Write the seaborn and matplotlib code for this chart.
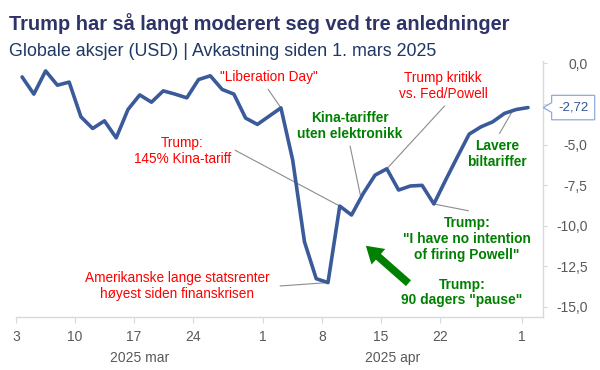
import numpy as np
import pandas as pd
import matplotlib
matplotlib.use("Agg")
import matplotlib.pyplot as plt
import matplotlib.transforms as mtrans
from matplotlib.patches import Polygon
import seaborn as sns

# ---------------- data ----------------
dates = pd.bdate_range("2025-03-03", "2025-05-01")
returns = [-0.83, -1.89, -0.46, -1.34, -1.15, -3.29, -4.01, -3.54, -4.59, -2.84,
           -1.94, -2.39, -1.69, -1.89, -2.12, -0.99, -0.76, -1.60, -1.89, -3.37,
           -3.76, -3.25, -2.74, -5.96, -11.00, -13.28, -13.52, -8.80, -9.35, -8.02,
           -6.89, -6.50, -7.81, -7.56, -7.52, -8.67, -7.19, -5.76, -4.36, -3.91,
           -3.60, -3.08, -2.84, -2.72]
tick_dates = ["2025-03-03", "2025-03-10", "2025-03-17", "2025-03-24", "2025-04-01",
              "2025-04-08", "2025-04-15", "2025-04-22", "2025-05-01"]
month_labels = ["2025 mar", "2025 apr"]
yticks = [0.0, -2.5, -5.0, -7.5, -10.0, -12.5, -15.0]

title = "Trump har så langt moderert seg ved tre anledninger"
subtitle = "Globale aksjer (USD) | Avkastning siden 1. mars 2025"

RED = "#FF0000"
GREEN = "#008000"
LINE = "#3A5A9A"
GRID = "#D9D9D9"
TXT = "#595959"

df = pd.DataFrame({"idx": np.arange(len(dates)), "ret": returns})

sns.set_style("white")
plt.rcParams["font.family"] = ["Liberation Sans", "DejaVu Sans"]

fig = plt.figure(figsize=(6, 3.7), dpi=100)
ax = fig.add_axes([0.027, 0.143, 0.8785, 0.692])

sns.lineplot(data=df, x="idx", y="ret", ax=ax, color=LINE, linewidth=2.6)

ax.set_xlim(-0.5, 44.3)
ax.set_ylim(-15.65, 0.15)

# y axis on right (the -2,5 label is hidden behind the last-value callout)
ax.yaxis.tick_right()
ax.set_yticks(yticks)
ylabels = [f"{v:.1f}".replace(".", ",") for v in yticks]
ylabels[1] = ""
ax.set_yticklabels(ylabels, color=TXT, fontsize=10)
ax.tick_params(axis="y", length=3, width=0.8, color=GRID, pad=29, right=True, left=False)
for t in ax.get_yticklabels():
    t.set_horizontalalignment("right")

# x axis
pos = {d: i for i, d in enumerate(dates)}
tick_idx = [pos[pd.Timestamp(d)] for d in tick_dates]
ax.set_xticks([i - 0.5 for i in tick_idx])
ax.set_xticklabels([str(pd.Timestamp(d).day) for d in tick_dates], color=TXT, fontsize=10)
ax.tick_params(axis="x", length=4, width=0.8, color=GRID, pad=5.5, bottom=True)
ax.set_xlabel("")
ax.set_ylabel("")

apr1 = pos[pd.Timestamp("2025-04-01")] - 0.5
may1 = pos[pd.Timestamp("2025-05-01")] - 0.5
start = -0.5
bt = mtrans.blended_transform_factory(ax.transData, ax.transAxes)
ax.text((start + apr1) / 2, -0.132, month_labels[0], transform=bt, ha="center", va="top",
        color=TXT, fontsize=10)
ax.text((apr1 + may1) / 2, -0.132, month_labels[1], transform=bt, ha="center", va="top",
        color=TXT, fontsize=10)

for s in ["left", "top"]:
    ax.spines[s].set_visible(False)
for s in ["right", "bottom"]:
    ax.spines[s].set_color(GRID)
    ax.spines[s].set_linewidth(1.0)
ax.grid(False)

# titles
fig.text(0.015, 0.937, title, fontsize=14.4, fontweight="bold", color="#2E3468", va="center")
fig.text(0.015, 0.862, subtitle, fontsize=12.9, color="#1F3864", va="center")

# annotations
def pointer(x0, y0, x1, y1):
    ax.plot([x0, x1], [y0, y1], color="#8C8C8C", linewidth=0.8, zorder=1)

def label(x, y, s, color, bold=False, size=9.8):
    ax.text(x, y, s, color=color, ha="center", va="center", fontsize=size,
            fontweight="bold" if bold else "normal", linespacing=1.15)

r = returns
label(21.0, -0.86, '"Liberation Day"', RED)
pointer(20.91, -1.59, 22, r[22])

label(13.6, -5.41, "Trump:\n145% Kina-tariff", RED)
pointer(18.1, -5.35, 27, r[27])

label(13.17, -13.73, "Amerikanske lange statsrenter\nhøyest siden finanskrisen", RED)
pointer(21.93, -13.73, 26, r[26])

GS = 9.9
label(27.88, -3.87, "Kina-tariffer\nuten elektronikk", GREEN, bold=True, size=GS)
pointer(27.88, -5.1, 28.8, r[28] + 0.8 * (r[29] - r[28]))

label(35.79, -1.40, "Trump kritikk\nvs. Fed/Powell", RED)
pointer(35.9, -2.63, 31, r[31])

label(40.38, -5.59, "Lavere\nbiltariffer", GREEN, bold=True, size=GS)
pointer(40.58, -4.32, 41.7, r[41] + 0.7 * (r[42] - r[41]))

label(37.8, -10.83, 'Trump:\n"I have no intention\nof firing Powell"', GREEN, bold=True, size=GS)
pointer(37.94, -9.09, 35, r[35])

label(37.38, -14.13, 'Trump:\n90 dagers "pause"', GREEN, bold=True, size=GS)

ax.annotate("", xy=(29.22, -11.25), xytext=(32.84, -13.56),
            arrowprops=dict(facecolor=GREEN, edgecolor="none", width=5.5, headwidth=15,
                            headlength=12, shrink=0))

# last value callout
fig.canvas.draw()
ax_pt = mtrans.blended_transform_factory(ax.transAxes, ax.transData).transform((1.0, r[-1]))
k = fig.dpi / 72.0
tr = mtrans.Affine2D().scale(k).translate(ax_pt[0], ax_pt[1])
verts = [(0, 0), (6, 3.5), (6, 8.8), (37, 8.8), (37, -8.8), (6, -8.8), (6, -3.5)]
poly = Polygon(verts, closed=True, facecolor="white", edgecolor="#8FAADC", linewidth=0.9,
               transform=tr, clip_on=False, zorder=5)
fig.add_artist(poly)
fig.text(ax_pt[0] + 21.5 * k, ax_pt[1], f"{r[-1]:.2f}".replace(".", ","),
         transform=None, ha="center", va="center", fontsize=9.5, color="#2F5597", zorder=6)

fig.savefig("out.png", dpi=100)
